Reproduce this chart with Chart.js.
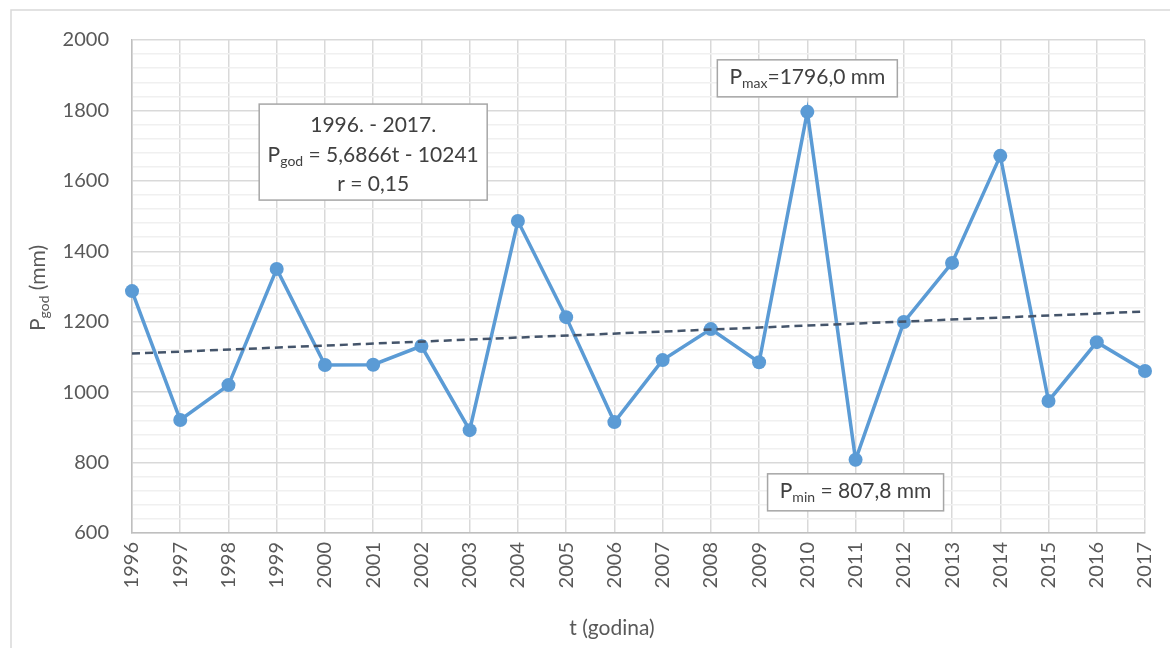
<!DOCTYPE html>
<html>
<head>
<meta charset="utf-8">
<script src="https://cdn.jsdelivr.net/npm/chart.js@4.4.1/dist/chart.umd.min.js"></script>
<style>
    html, body { margin: 0; padding: 0; background: #fff; }
    #wrap { width: 1170px; height: 648px; }
</style>
</head>
<body>
<div id="wrap"><canvas id="precip-chart" width="1170" height="648"></canvas></div>
<script>
// Annual precipitation 1996 - 2017
const years = [1996, 1997, 1998, 1999, 2000, 2001, 2002, 2003, 2004, 2005, 2006,
               2007, 2008, 2009, 2010, 2011, 2012, 2013, 2014, 2015, 2016, 2017];
const precip = [1287, 921, 1020, 1350, 1077, 1078, 1131, 892, 1486, 1213, 915,
                1091, 1179, 1085, 1796.0, 807.8, 1199, 1367, 1671, 975, 1142, 1060];

// linear trend, end points
const trendYears = [1996, 2017];
const trendValues = [1109.5, 1228.9];

const yMin = 600;
const yMax = 2000;
const yMajorStep = 200;
const yMinorStep = 40;

const FONT = 'Lato, "Open Sans", sans-serif';
const TEXT = '#595959';

// draw "P" + subscript + rest, centred at cx
function drawSubText(ctx, cx, cy, main, sub, rest, size) {
    const big = size + 'px ' + FONT;
    const small = Math.round(size * 0.68) + 'px ' + FONT;
    ctx.font = big;
    const w1 = ctx.measureText(main).width;
    const w3 = ctx.measureText(rest).width;
    ctx.font = small;
    const w2 = ctx.measureText(sub).width;
    let x = cx - (w1 + w2 + w3) / 2;
    ctx.textAlign = 'left';
    ctx.textBaseline = 'middle';
    ctx.font = big;
    ctx.fillText(main, x, cy);
    x += w1;
    ctx.font = small;
    ctx.fillText(sub, x, cy + size * 0.32);
    x += w2;
    ctx.font = big;
    ctx.fillText(rest, x, cy);
}

function drawBox(ctx, x, y, w, h) {
    ctx.fillStyle = '#fff';
    ctx.fillRect(x, y, w, h);
    ctx.strokeStyle = '#a6a6a6';
    ctx.lineWidth = 1.5;
    ctx.strokeRect(x, y, w, h);
}

const frame = {
    id: 'frame',
    beforeDraw(chart) {
        const ctx = chart.ctx;
        ctx.save();
        ctx.fillStyle = '#fff';
        ctx.fillRect(0, 0, chart.width, chart.height);
        ctx.strokeStyle = '#d9d9d9';
        ctx.lineWidth = 1.5;
        ctx.strokeRect(11, 10, chart.width + 20, chart.height + 20);
        ctx.restore();
    }
};

const labels = {
    id: 'labels',
    afterDraw(chart) {
        const ctx = chart.ctx;
        const xs = chart.scales.x;
        const ys = chart.scales.y;
        ctx.save();

        // equation box
        const ex = xs.getPixelForValue(2001.0);
        const ey = ys.getPixelForValue(1818);
        drawBox(ctx, ex - 114, ey, 228, 96);
        ctx.fillStyle = '#404040';
        ctx.font = '21px ' + FONT;
        ctx.textAlign = 'center';
        ctx.textBaseline = 'middle';
        ctx.fillText('1996. - 2017.', ex, ey + 21);
        drawSubText(ctx, ex, ey + 51, 'P', 'god', ' = 5,6866t - 10241', 21);
        ctx.font = '21px ' + FONT;
        ctx.textAlign = 'center';
        ctx.fillText('r = 0,15', ex, ey + 80);

        // max / min
        const iMax = precip.indexOf(Math.max(...precip));
        const iMin = precip.indexOf(Math.min(...precip));
        const mx = xs.getPixelForValue(years[iMax]);
        const my = ys.getPixelForValue(precip[iMax]);
        drawBox(ctx, mx - 90, my - 52, 180, 37);
        ctx.fillStyle = '#404040';
        drawSubText(ctx, mx, my - 35, 'P', 'max', '=1796,0 mm', 21);

        const nx = xs.getPixelForValue(years[iMin]);
        const ny = ys.getPixelForValue(precip[iMin]);
        drawBox(ctx, nx - 88, ny + 14, 176, 37);
        ctx.fillStyle = '#404040';
        drawSubText(ctx, nx, ny + 31, 'P', 'min', ' = 807,8 mm', 21);

        // x axis title
        ctx.fillStyle = TEXT;
        ctx.font = '21px ' + FONT;
        ctx.textAlign = 'center';
        ctx.textBaseline = 'middle';
        ctx.fillText('t (godina)', 612, 628);

        // y axis title with subscript
        ctx.translate(38, 288);
        ctx.rotate(-Math.PI / 2);
        drawSubText(ctx, 0, 0, 'P', 'god', ' (mm)', 21);
        ctx.restore();
    }
};

function initChart() {
    const ctx = document.getElementById('precip-chart').getContext('2d');
    new Chart(ctx, {
        type: 'line',
        data: {
            datasets: [
                {
                    label: 'P god',
                    data: years.map((y, i) => ({ x: y, y: precip[i] })),
                    borderColor: '#5b9bd5',
                    backgroundColor: '#5b9bd5',
                    borderWidth: 3.5,
                    pointRadius: 7,
                    pointHoverRadius: 7,
                    pointBorderWidth: 0,
                    tension: 0,
                    clip: false,
                    order: 1
                },
                {
                    label: 'trend',
                    data: trendYears.map((y, i) => ({ x: y, y: trendValues[i] })),
                    borderColor: '#44546a',
                    borderWidth: 2.5,
                    borderDash: [8, 5],
                    pointRadius: 0,
                    order: 0
                }
            ]
        },
        options: {
            responsive: false,
            animation: false,
            layout: { padding: { left: 20, right: 25, top: 40, bottom: 0 } },
            plugins: {
                legend: { display: false },
                tooltip: { enabled: false }
            },
            scales: {
                x: {
                    type: 'linear',
                    min: years[0],
                    max: years[years.length - 1],
                    afterFit: s => {
                        s.height = 115;
                        s.paddingLeft = 0;
                        s.paddingRight = 0;
                    },
                    ticks: {
                        stepSize: 1,
                        autoSkip: false,
                        minRotation: 90,
                        maxRotation: 90,
                        padding: 9,
                        color: TEXT,
                        font: { family: FONT, size: 20 },
                        callback: v => String(v)
                    },
                    grid: { color: '#d9d9d9', lineWidth: 1.5, drawTicks: false },
                    border: { color: '#bfbfbf', width: 1.5 }
                },
                y: {
                    min: yMin,
                    max: yMax,
                    afterFit: s => { s.width = 112; },
                    ticks: {
                        stepSize: yMinorStep,
                        autoSkip: false,
                        padding: 23,
                        color: TEXT,
                        font: { family: FONT, size: 20 },
                        callback: v => (v % yMajorStep === 0 ? v : '')
                    },
                    grid: {
                        drawTicks: false,
                        lineWidth: 1.5,
                        color: c => (c.tick && c.tick.value % yMajorStep === 0 ? '#d9d9d9' : '#f0f0f0')
                    },
                    border: { color: '#bfbfbf', width: 1.5 }
                }
            }
        },
        plugins: [frame, labels]
    });
}

document.addEventListener('DOMContentLoaded', initChart);
</script>
</body>
</html>
